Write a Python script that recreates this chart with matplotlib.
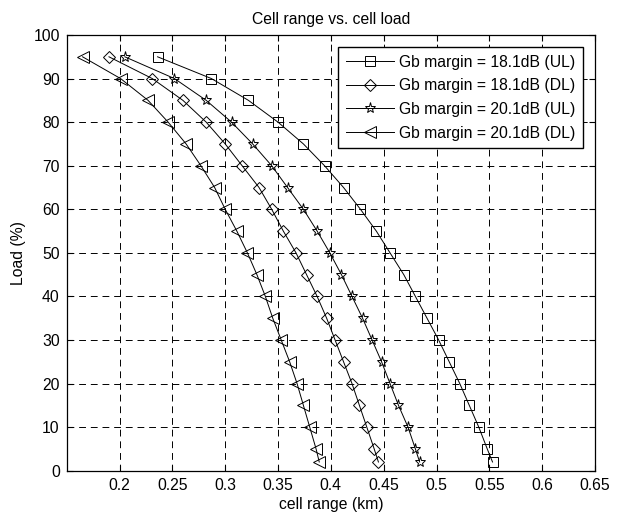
import matplotlib
matplotlib.use("Agg")
import matplotlib.pyplot as plt

plt.rcParams['font.family'] = ['Liberation Sans', 'DejaVu Sans']

# load levels (%)
load = [95, 90, 85, 80, 75, 70, 65, 60, 55, 50, 45, 40, 35, 30, 25, 20, 15, 10, 5, 2]

# cell range (km) for each case
ul_181 = [0.236, 0.287, 0.322, 0.350, 0.374, 0.394, 0.412, 0.428, 0.443, 0.456,
          0.469, 0.480, 0.491, 0.502, 0.512, 0.522, 0.531, 0.540, 0.548, 0.553]
dl_181 = [0.190, 0.231, 0.260, 0.282, 0.300, 0.316, 0.332, 0.344, 0.355, 0.367,
          0.377, 0.387, 0.396, 0.404, 0.412, 0.420, 0.427, 0.434, 0.441, 0.445]
ul_201 = [0.205, 0.252, 0.282, 0.306, 0.326, 0.344, 0.359, 0.374, 0.387, 0.399,
          0.410, 0.420, 0.430, 0.439, 0.448, 0.456, 0.464, 0.473, 0.480, 0.484]
dl_201 = [0.165, 0.201, 0.227, 0.246, 0.263, 0.277, 0.290, 0.300, 0.311, 0.321,
          0.330, 0.338, 0.345, 0.353, 0.361, 0.368, 0.374, 0.380, 0.386, 0.389]

labels = ['Gb margin = 18.1dB (UL)', 'Gb margin = 18.1dB (DL)',
          'Gb margin = 20.1dB (UL)', 'Gb margin = 20.1dB (DL)']

fs = 11.3

fig = plt.figure(figsize=(6.27, 5.18), dpi=100)
ax = fig.add_axes([0.1064, 0.0913, 0.8426, 0.8411])

style = dict(color='black', linewidth=0.7, markerfacecolor='none',
             markeredgecolor='black', markeredgewidth=0.7)
ax.plot(ul_181, load, marker='s', markersize=7.5, label=labels[0], **style)
ax.plot(dl_181, load, marker='D', markersize=6, label=labels[1], **style)
ax.plot(ul_201, load, marker='*', markersize=8, label=labels[2], **style)
ax.plot(dl_201, load, marker='<', markersize=8, label=labels[3], **style)

ax.set_xlim(0.15, 0.65)
ax.set_ylim(0, 100)
ax.set_xticks([0.2, 0.25, 0.3, 0.35, 0.4, 0.45, 0.5, 0.55, 0.6, 0.65])
ax.set_xticklabels(['0.2', '0.25', '0.3', '0.35', '0.4', '0.45', '0.5', '0.55', '0.6', '0.65'])
ax.set_yticks(range(0, 101, 10))
ax.tick_params(direction='in', top=True, right=True, labelsize=fs,
               length=4, width=0.8, pad=5)
ax.grid(True, color='black', linestyle=(0, (7, 5)), linewidth=0.7)
for s in ax.spines.values():
    s.set_linewidth(0.9)

ax.set_title('Cell range vs. cell load', fontsize=fs, pad=8)
ax.set_xlabel('cell range (km)', fontsize=fs, labelpad=3)
ax.set_ylabel('Load (%)', fontsize=fs, labelpad=5)

leg = ax.legend(loc='upper right', fontsize=fs, handlelength=3.1,
                fancybox=False, framealpha=1, edgecolor='black',
                borderaxespad=0.75, labelspacing=0.55, handletextpad=0.3,
                borderpad=0.5)
leg.get_frame().set_linewidth(1.0)

fig.savefig('out.png', dpi=100)
